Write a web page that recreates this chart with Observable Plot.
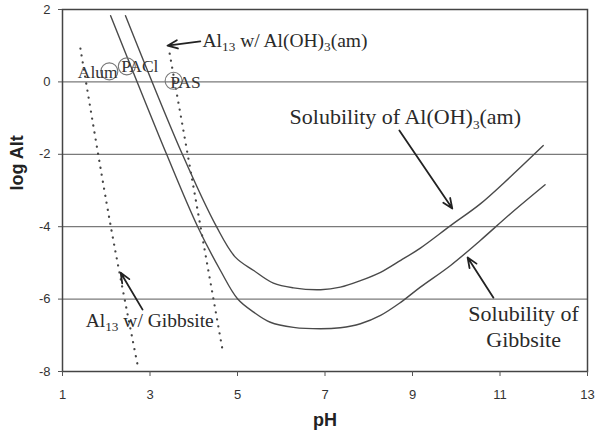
<!DOCTYPE html>
<html>
<head>
<meta charset="utf-8">
<script src="https://cdn.jsdelivr.net/npm/d3@7"></script>
<script src="https://cdn.jsdelivr.net/npm/@observablehq/plot@0.6"></script>
<style>
  html, body { margin: 0; padding: 0; background: #fff; }
  #chart { width: 597px; height: 437px; }
</style>
</head>
<body>
<div id="chart"></div>
<script>
// ---- data ----
const xTicks = [1, 3, 5, 7, 9, 11, 13];
const yTicks = [-8, -6, -4, -2, 0, 2];

// Solubility of Gibbsite
const gibbsitePH  = [2.10, 3.38, 4.09, 4.61, 5.00, 5.37, 5.75, 6.28, 6.90, 7.35, 7.81, 8.27, 8.73, 9.18, 9.87, 10.55, 11.24, 12.03];
const gibbsiteLog = [1.83, -2.00, -4.00, -5.21, -5.99, -6.36, -6.64, -6.78, -6.82, -6.79, -6.68, -6.45, -6.09, -5.67, -5.07, -4.38, -3.64, -2.84];

// Solubility of Al(OH)3(am)
const amPH  = [2.44, 3.74, 4.52, 4.95, 5.37, 5.82, 6.28, 6.90, 7.35, 7.81, 8.27, 8.73, 9.18, 9.87, 10.55, 11.24, 11.99];
const amLog = [1.83, -2.00, -4.00, -4.84, -5.21, -5.56, -5.69, -5.74, -5.67, -5.49, -5.26, -4.93, -4.59, -3.97, -3.37, -2.62, -1.76];

// Al13 dotted lines
const al13GibbsitePH  = [1.41, 2.10, 2.71];
const al13GibbsiteLog = [0.92, -3.97, -7.78];
const al13AmPH  = [3.45, 4.66];
const al13AmLog = [0.78, -7.42];

// Coagulant markers
const markerName = ["Alum", "PACl", "PAS"];
const markerPH   = [2.07, 2.47, 3.54];
const markerLog  = [0.29, 0.43, 0.03];
const labelPH    = [1.35, 2.34, 3.46];
const labelLog   = [0.26, 0.43, 0.00];

// Annotations
const noteAl13Text = ["Al_{13} w/ Al(OH)_{3}(am)", "Al_{13} w/ Gibbsite"];
const noteAl13PH   = [4.20, 1.53];
const noteAl13Log  = [1.14, -6.59];
const noteSolText = ["Solubility of Al(OH)_{3}(am)"];
const noteSolPH   = [6.19];
const noteSolLog  = [-0.98];
const noteMidText = ["Solubility of", "Gibbsite"];
const noteMidPH   = [11.54, 11.54];
const noteMidLog  = [-6.40, -7.14];

const arrowPH1  = [4.15, 8.70, 10.85, 2.83];
const arrowLog1 = [1.12, -1.34, -5.96, -6.29];
const arrowPH2  = [3.40, 9.91, 10.26, 2.33];
const arrowLog2 = [1.00, -3.50, -4.85, -5.27];

// ---- tables built from the arrays ----
const toPts = (xs, ys) => xs.map((x, i) => ({x, y: ys[i]}));
const gibbsite = toPts(gibbsitePH, gibbsiteLog);
const am = toPts(amPH, amLog);
const al13G = toPts(al13GibbsitePH, al13GibbsiteLog);
const al13A = toPts(al13AmPH, al13AmLog);
const markers = markerName.map((n, i) => ({n, x: markerPH[i], y: markerLog[i], lx: labelPH[i], ly: labelLog[i]}));
const notesAl13 = noteAl13Text.map((t, i) => ({t, x: noteAl13PH[i], y: noteAl13Log[i]}));
const notesSol = noteSolText.map((t, i) => ({t, x: noteSolPH[i], y: noteSolLog[i]}));
const notesMid = noteMidText.map((t, i) => ({t, x: noteMidPH[i], y: noteMidLog[i]}));
const arrows = arrowPH1.map((x1, i) => ({x1, y1: arrowLog1[i], x2: arrowPH2[i], y2: arrowLog2[i]}));

const serif = "'Liberation Serif', 'Times New Roman', serif";
const sans = "'Liberation Sans', Arial, sans-serif";
const lineColor = "#4a4a4a";

const chart = Plot.plot({
  width: 597,
  height: 437,
  marginLeft: 62,
  marginRight: 10,
  marginTop: 9,
  marginBottom: 66,
  style: {fontFamily: sans, fontSize: "13px", color: "#333", background: "#fff", overflow: "visible"},
  x: {domain: [1, 13]},
  y: {domain: [-8, 2]},
  marks: [
    Plot.gridY(yTicks, {stroke: "#7a7a7a", strokeOpacity: 1, strokeWidth: 1.2}),
    Plot.frame({stroke: "#444", strokeWidth: 1.5}),
    Plot.axisX(xTicks, {tickSize: 5, tickPadding: 13, label: null, stroke: "#555", fill: "#333", fontSize: 13}),
    Plot.axisY(yTicks, {tickSize: 4, tickPadding: 8, label: null, stroke: "#555", fill: "#333", fontSize: 13,
      tickFormat: d => d < 0 ? "-" + Math.abs(d) : String(d)}),
    Plot.line(al13G, {x: "x", y: "y", stroke: "#444", strokeWidth: 2.2, strokeDasharray: "0.1,7", strokeLinecap: "round", curve: "catmull-rom"}),
    Plot.line(al13A, {x: "x", y: "y", stroke: "#444", strokeWidth: 2.2, strokeDasharray: "0.1,7", strokeLinecap: "round"}),
    Plot.line(gibbsite, {x: "x", y: "y", stroke: lineColor, strokeWidth: 1.4, curve: "catmull-rom"}),
    Plot.line(am, {x: "x", y: "y", stroke: lineColor, strokeWidth: 1.4, curve: "catmull-rom"}),
    Plot.dot(markers, {x: "x", y: "y", r: 8.5, stroke: "#777", strokeWidth: 1.1, fill: "none"}),
    Plot.text(markers, {x: "lx", y: "ly", text: "n", textAnchor: "start", lineAnchor: "middle", fontFamily: serif, fontSize: 17.5, fill: "#333"}),
    Plot.arrow(arrows, {x1: "x1", y1: "y1", x2: "x2", y2: "y2", stroke: "#222", strokeWidth: 1.8, headLength: 9, headAngle: 45}),
    Plot.text(notesAl13, {x: "x", y: "y", text: "t", textAnchor: "start", lineAnchor: "middle", fontFamily: serif, fontSize: 19.5, fill: "#2a2a2a"}),
    Plot.text(notesSol, {x: "x", y: "y", text: "t", textAnchor: "start", lineAnchor: "middle", fontFamily: serif, fontSize: 22, fill: "#2a2a2a"}),
    Plot.text(notesMid, {x: "x", y: "y", text: "t", textAnchor: "middle", lineAnchor: "middle", fontFamily: serif, fontSize: 22, fill: "#2a2a2a"}),
    Plot.text(["log Alt"], {frameAnchor: "left", dx: -45, rotate: -90, fontFamily: sans, fontWeight: "bold", fontSize: 18, fill: "#222"}),
    Plot.text(["pH"], {frameAnchor: "bottom", dy: 54, fontFamily: sans, fontWeight: "bold", fontSize: 18, fill: "#222"})
  ]
});

// Render "_{..}" as subscripts
chart.querySelectorAll("text").forEach(t => {
  const s = t.textContent;
  if (!s.includes("_{")) return;
  const fs = parseFloat(t.getAttribute("font-size")) || 19.5;
  const sub = fs * 0.68, shift = fs * 0.22;
  t.textContent = "";
  const parts = s.split(/(_\{[^}]*\})/);
  let lowered = false;
  parts.forEach(p => {
    if (!p) return;
    const ts = document.createElementNS("http://www.w3.org/2000/svg", "tspan");
    if (p.startsWith("_{")) {
      ts.textContent = p.slice(2, -1);
      ts.setAttribute("font-size", sub);
      ts.setAttribute("dy", shift);
      lowered = true;
    } else {
      ts.textContent = p;
      if (lowered) { ts.setAttribute("dy", -shift); lowered = false; }
    }
    t.appendChild(ts);
  });
});

document.getElementById("chart").appendChild(chart);
</script>
</body>
</html>
